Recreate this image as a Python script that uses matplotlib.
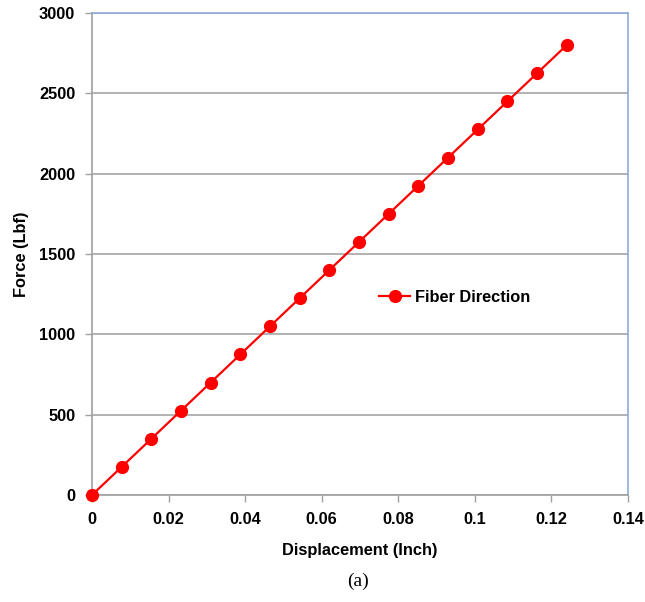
import matplotlib
matplotlib.use("Agg")
from matplotlib import pyplot as plt
import numpy as np

# Fiber direction test readings
displacement = [0, 0.00775, 0.0155, 0.02325, 0.031, 0.03875, 0.0465, 0.05425,
                0.062, 0.06975, 0.0775, 0.08525, 0.093, 0.10075, 0.1085,
                0.11625, 0.124]
force = [0, 175, 350, 525, 700, 875, 1050, 1225, 1400, 1575, 1750, 1925,
         2100, 2275, 2450, 2625, 2800]
xticks = [0, 0.02, 0.04, 0.06, 0.08, 0.1, 0.12, 0.14]
xtick_labels = ["0", "0.02", "0.04", "0.06", "0.08", "0.1", "0.12", "0.14"]
yticks = [0, 500, 1000, 1500, 2000, 2500, 3000]

plt.rcParams['font.family'] = ['Liberation Sans', 'DejaVu Sans']

fig = plt.figure(figsize=(6.45, 6.02), dpi=100)
ax = fig.add_axes([0.1426, 0.1777, 0.831, 0.8007])

ax.plot(displacement, force, color='#ff0000', lw=1.6, marker='o', ms=8.5,
        label='Fiber Direction', zorder=3, clip_on=False)

ax.set_xlim(0, 0.14)
ax.set_ylim(0, 3000)
ax.set_xticks(xticks)
ax.set_xticklabels(xtick_labels)
ax.set_yticks(yticks)
ax.yaxis.grid(True, color='#a6a6a6', lw=1.2)
ax.set_axisbelow(True)

for s in ['left', 'bottom']:
    ax.spines[s].set_color('#a0a0a0')
    ax.spines[s].set_linewidth(1.2)
for s in ['top', 'right']:
    ax.spines[s].set_color('#8eaadb')
    ax.spines[s].set_linewidth(1.2)

ax.tick_params(direction='out', length=5, width=1, color='#a0a0a0',
               labelsize=11.8, pad=7)
for lbl in ax.get_xticklabels() + ax.get_yticklabels():
    lbl.set_fontweight('bold')

ax.set_xlabel('Displacement (Inch)', fontsize=11.8, fontweight='bold', labelpad=12)
ax.set_ylabel('Force (Lbf)', fontsize=11.8, fontweight='bold', labelpad=7)

leg = ax.legend(loc='center left', bbox_to_anchor=(0.508, 0.41), frameon=False,
                prop={'weight': 'bold', 'size': 11.8}, handlelength=1.9,
                handletextpad=0.3)

fig.text(0.555, 0.035, '(a)', fontsize=14, family=['Liberation Serif'],
         ha='center', va='center')

fig.savefig('out.png', dpi=100)
